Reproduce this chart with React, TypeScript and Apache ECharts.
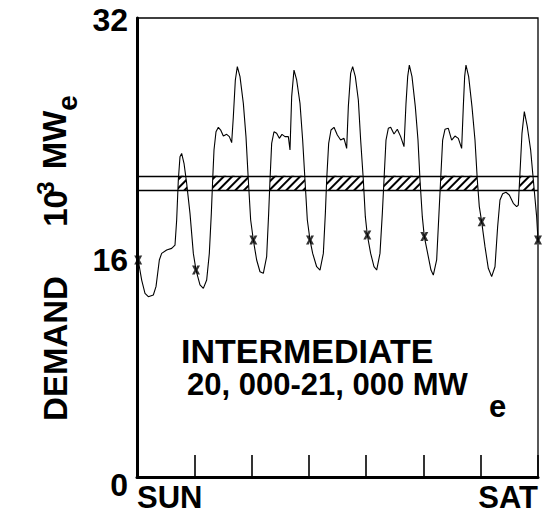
import React, { useEffect, useRef } from "react";
import * as echarts from "echarts";

// hours since Sunday 00:00
const hours = [0, 0.5, 1.96, 3.35, 4.75, 6.84, 7.96, 9.36, 10.33, 12.43, 14.52, 15.92, 16.62, 17.31, 18.01, 18.71, 19.69, 20.81, 22.2, 23.6, 24.72, 26.39, 27.79, 29.19, 30.3, 31.14, 31.7, 32.26, 33.1, 34.08, 35.05, 36.17, 37.57, 38.69, 39.66, 40.36, 41.2, 42.03, 43.15, 44.55, 45.66, 46.64, 47.62, 48.74, 50.13, 51.53, 52.93, 54.32, 55.16, 55.72, 56.42, 57.39, 58.51, 59.63, 60.74, 62.0, 63.4, 64.1, 64.8, 65.77, 66.89, 68.29, 69.4, 70.38, 71.36, 72.48, 73.6, 75.27, 76.67, 78.07, 78.91, 79.46, 80.3, 81.28, 82.53, 83.93, 85.32, 86.72, 87.84, 88.54, 89.51, 90.35, 91.47, 92.73, 93.7, 94.82, 95.66, 96.49, 97.89, 99.29, 100.41, 101.8, 102.78, 103.48, 104.32, 105.29, 106.27, 107.67, 109.06, 110.46, 111.86, 112.7, 113.4, 114.09, 115.21, 116.6, 117.72, 118.56, 119.53, 120.37, 121.77, 123.16, 124.14, 125.54, 126.51, 127.21, 128.05, 129.03, 130.43, 131.83, 133.22, 134.62, 136.01, 136.71, 137.27, 137.83, 138.95, 140.34, 141.6, 142.58, 143.41, 144.39, 145.79, 147.18, 148.58, 149.98, 151.09, 152.07, 153.19, 154.58, 155.98, 157.66, 159.06, 159.75, 160.45, 161.29, 162.27, 163.52, 164.92, 166.04, 167.43, 168];

// demand, 10^3 MWe
const demand = [15.3, 15.13, 13.73, 12.8, 12.57, 12.69, 13.27, 15.13, 15.59, 15.83, 15.94, 16.17, 17.92, 20.71, 22.33, 22.56, 21.87, 20.47, 18.38, 15.59, 14.43, 13.39, 13.15, 13.73, 15.59, 18.38, 20.71, 22.8, 24.07, 24.38, 24.19, 23.77, 23.89, 23.73, 23.31, 25.12, 27.68, 28.61, 27.91, 26.05, 23.73, 20.71, 17.92, 16.52, 15.13, 14.31, 14.2, 15.36, 18.38, 20.71, 23.26, 24.07, 23.96, 23.61, 23.89, 23.73, 23.73, 22.8, 26.52, 28.37, 27.68, 26.05, 23.49, 20.71, 17.92, 16.52, 15.59, 14.66, 14.43, 15.59, 18.38, 20.71, 23.26, 24.19, 24.38, 23.84, 23.49, 23.61, 22.91, 25.82, 28.14, 28.61, 27.91, 26.28, 23.49, 20.71, 18.15, 16.87, 15.59, 14.66, 14.43, 15.59, 18.38, 20.71, 23.49, 24.31, 24.38, 23.91, 24.24, 23.73, 23.03, 26.05, 27.91, 28.72, 27.91, 25.82, 23.49, 20.71, 18.15, 16.76, 15.59, 14.43, 14.08, 15.13, 18.38, 20.71, 23.49, 24.24, 24.31, 23.49, 23.77, 23.61, 22.91, 25.82, 27.91, 28.72, 27.91, 25.82, 23.49, 20.71, 18.85, 17.8, 16.06, 14.55, 13.97, 14.66, 17.45, 19.31, 19.75, 19.85, 19.66, 19.08, 18.85, 18.96, 21.17, 23.96, 25.47, 24.42, 22.8, 20.71, 18.15, 16.52];

// midnight markers
const markerHours = [0.5, 24.72, 48.74, 72.48, 96.49, 120.37, 144.39, 168];
const markerValues = [15.13, 14.43, 16.52, 16.52, 16.87, 16.76, 17.8, 16.52];

// intermediate band limits (10^3 MWe)
const bandLow = 20;
const bandHigh = 21;

const yTickLabels = ["0", "16", "32"];
const dayLabels = ["SUN", "", "", "", "", "", "", "SAT"];

const FONT = '"Liberation Sans", Arial, Helvetica, sans-serif';

function clipToBand(hs: number[], vs: number[], lo: number, hi: number) {
  const out: [number, number][] = [];
  for (let i = 0; i < hs.length; i++) {
    if (i > 0) {
      const h0 = hs[i - 1], v0 = vs[i - 1], h1 = hs[i], v1 = vs[i];
      const levels = v1 > v0 ? [lo, hi] : [hi, lo];
      for (const lvl of levels) {
        if ((v0 - lvl) * (v1 - lvl) < 0) {
          const t = (lvl - v0) / (v1 - v0);
          out.push([h0 + t * (h1 - h0), lvl]);
        }
      }
    }
    out.push([hs[i], Math.min(hi, Math.max(lo, vs[i]))]);
  }
  return out;
}

const MARK = "path://M0,0 L3.5,0 L5,3 L6.5,0 L10,0 L7,5 L10,10 L6.5,10 L5,7 L3.5,10 L0,10 L3,5 Z";

export default function App() {
  const ref = useRef<HTMLDivElement>(null);
  useEffect(() => {
    if (!ref.current) return;
    document.body.style.margin = "0";
    const chart = echarts.init(ref.current, undefined, { renderer: "svg" });
    const curve = hours.map((h, i) => [h, demand[i]]);
    const hatch = clipToBand(hours, demand, bandLow, bandHigh);
    const markers = markerHours.map((h, i) => [h, markerValues[i]]);
    const txt = (text: string, x: number, y: number, size: number, rot = 0, align = "left") => ({
      type: "text",
      x,
      y,
      rotation: rot,
      silent: true,
      style: {
        text,
        fill: "#000",
        fontFamily: FONT,
        fontWeight: "bold",
        fontSize: size,
        lineHeight: Math.round(size * 0.8),
        align,
        verticalAlign: "middle",
      },
    });
    const R = Math.PI / 2;
    chart.setOption({
      animation: false,
      backgroundColor: "#fff",
      grid: {
        left: 137,
        right: 6,
        top: 18,
        bottom: 40,
        show: true,
        borderColor: "#000",
        borderWidth: 1.3,
        outerBoundsMode: "none",
      },
      xAxis: {
        type: "value",
        min: 0,
        max: 168,
        interval: 24,
        axisLine: { show: true, lineStyle: { color: "#000", width: 3 } },
        axisTick: { show: true, inside: true, length: 22, lineStyle: { color: "#000", width: 1.6 } },
        splitLine: { show: false },
        axisLabel: {
          formatter: (v: number) => dayLabels[Math.round(v / 24)] ?? "",
          alignMinLabel: "left",
          alignMaxLabel: "right",
          color: "#000",
          fontFamily: FONT,
          fontWeight: "bold",
          fontSize: 31,
          margin: 5,
        },
      },
      yAxis: {
        type: "value",
        min: 0,
        max: 32,
        interval: 16,
        axisLine: { show: true, lineStyle: { color: "#000", width: 3 } },
        axisTick: { show: false },
        splitLine: { show: false },
        axisLabel: {
          formatter: (v: number) => {
            const i = Math.round(v / 16);
            return `{t${i}|${yTickLabels[i]}}`;
          },
          verticalAlign: "top",
          margin: 9,
          rich: {
            t0: { fontFamily: FONT, fontWeight: "bold", fontSize: 32, color: "#000", lineHeight: 16 },
            t1: { fontFamily: FONT, fontWeight: "bold", fontSize: 32, color: "#000", lineHeight: 25 },
            t2: { fontFamily: FONT, fontWeight: "bold", fontSize: 32, color: "#000", lineHeight: 4 },
          },
        },
      },
      series: [
        {
          name: "intermediate",
          type: "line",
          data: hatch,
          symbol: "none",
          silent: true,
          z: 1,
          lineStyle: { width: 0, opacity: 0 },
          areaStyle: { origin: bandLow, color: "#fff", opacity: 1 },
          itemStyle: {
            color: "#000",
            decal: {
              symbol: "rect",
              symbolSize: 1,
              color: "#000",
              dashArrayX: [1, 0],
              dashArrayY: [1.1, 3.3],
              rotation: -Math.PI / 4,
            },
          },
        },
        {
          name: "demand",
          type: "line",
          data: curve,
          symbol: "none",
          silent: true,
          z: 3,
          lineStyle: { color: "#000", width: 1.1 },
          itemStyle: { color: "#000" },
          markLine: {
            silent: true,
            symbol: ["none", "none"],
            label: { show: false },
            lineStyle: { color: "#000", type: "solid", width: 1.3 },
            data: [{ yAxis: bandLow }, { yAxis: bandHigh }],
          },
        },
        {
          name: "midnight",
          type: "scatter",
          data: markers,
          symbol: MARK,
          symbolSize: [8, 9],
          silent: true,
          z: 4,
          itemStyle: { color: "#000" },
        },
      ],
      graphic: [
        txt("INTERMEDIATE", 181, 351, 34),
        txt("20, 000-21, 000 MW", 187, 384, 31),
        txt("e", 489, 406, 31),
        txt("DEMAND", 55, 348.5, 33, R, "center"),
        txt("10", 55, 208.5, 33, R, "center"),
        txt("3", 45, 188, 24, R, "center"),
        txt("MW", 54, 140, 33, R, "center"),
        txt("e", 67, 103, 28, R, "center"),
      ],
    });
    return () => chart.dispose();
  }, []);
  return <div ref={ref} style={{ width: 544, height: 517 }} />;
}
